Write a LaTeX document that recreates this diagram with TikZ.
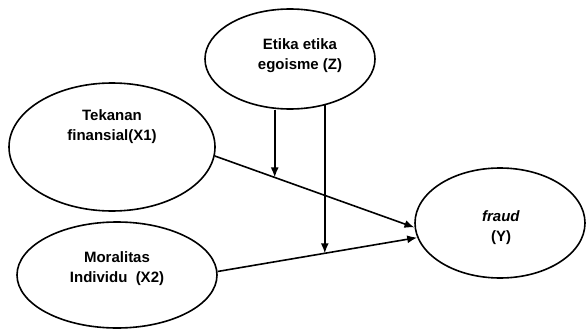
\documentclass[tikz,border=0pt]{standalone}
\usepackage{fontspec}
\setmainfont{Liberation Sans}
\usetikzlibrary{shapes.geometric, arrows.meta, calc}

\begin{document}
\begin{tikzpicture}[x=1pt, y=1pt,
        var/.style={draw, ellipse, line width=1.6pt, inner sep=0pt},
        txt/.style={align=center, inner sep=0pt, font=\fontsize{15}{20}\selectfont\bfseries},
        arr/.style={-{Latex[length=10pt, width=8pt]}, line width=1.6pt}]
    \useasboundingbox (0,0) rectangle (586,-329);
    \node[var, minimum width=170, minimum height=100] (z) at (290,-59) {};
    \node[var, minimum width=206, minimum height=128] (x1) at (112,-147) {};
    \node[var, minimum width=200, minimum height=106] (x2) at (117,-275) {};
    \node[var, minimum width=170, minimum height=110] (y) at (500,-223) {};
    \node[txt] (zt) at (300,-56) {Etika etika\\egoisme (Z)};
    \node[txt] (x1t) at (112,-127) {Tekanan\\finansial(X1)};
    \node[txt] (x2t) at (117,-269) {Moralitas\\Individu\ \ (X2)};
    \node[txt] (yt) at (501,-228) {\textit{fraud}\\(Y)};
    % pengaruh langsung
    \draw[arr] (x1.-5) -- coordinate[pos=0.30] (m1) (y.183);
    \draw[arr] (x2.2) -- coordinate[pos=0.537] (m2) (y.190);
    % moderasi
    \draw[arr] (m1 |- z.south) -- (m1);
    \draw[arr] ($(m2 |- z.south)+(0,4.4)$) -- (m2);
\end{tikzpicture}
\end{document}
